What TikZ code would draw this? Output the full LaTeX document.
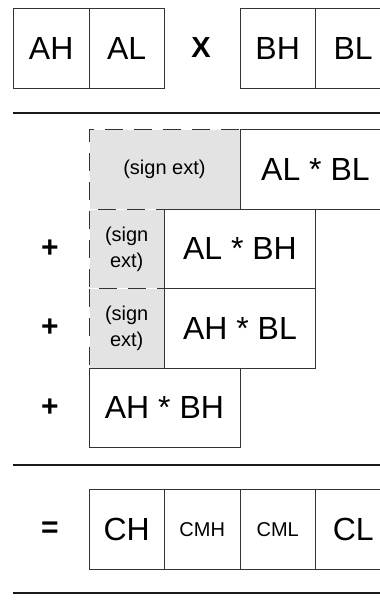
\documentclass[tikz,border=0pt]{standalone}
\usepackage{fontspec}
\setmainfont{Liberation Sans}
\begin{document}
\begin{tikzpicture}[x=1pt,y=-1pt,
  cell/.style={draw=black!80, line width=0.9pt, fill=white, inner sep=0pt, anchor=north west,
    minimum height=80pt, font=\fontsize{32}{38}\selectfont},
  w1/.style={minimum width=75.5pt},
  w2/.style={minimum width=151pt},
  small/.style={font=\fontsize{20}{26}\selectfont, align=center},
  sext/.style={draw=white, line width=0.9pt, fill=black!11,
    postaction={draw=black!80, line width=0.9pt, dash pattern=on 18pt off 11pt},
    inner sep=0pt, anchor=north west, minimum height=80pt, font=\fontsize{20}{26}\selectfont, align=center},
  op/.style={font=\fontsize{30}{34}\selectfont\bfseries, inner sep=0pt},
  rule/.style={line width=1.8pt, black!90}
]
\useasboundingbox (0,0) rectangle (380,605);
\clip (0,0) rectangle (380,605);
% top row
\node[cell,w1] (ah) at (13,8) {AH};
\node[cell,w1] (al) at (88.5,8) {AL};
\node[op, font=\fontsize{29}{34}\selectfont\bfseries] (x) at (201,48) {X};
\node[cell,w1] (bh) at (239.5,8) {BH};
\node[cell,w1] (bl) at (315,8) {BL};
% rule 1
\coordinate (r1a) at (13,113);
\coordinate (r1b) at (390,113);
\draw[rule] (r1a) -- (r1b);
% partial products
\node[sext, minimum width=151pt, minimum height=80pt] (s1) at (88.5,129) {(sign ext)};
\node[cell,w2] (albl) at (239.5,129) {AL * BL};
\node[sext, minimum width=75.5pt, minimum height=79pt] (s2) at (88.5,209) {(sign\\ext)};
\node[cell,w2, minimum height=79pt] (albh) at (164,209) {AL * BH};
\node[sext, minimum width=75.5pt] (s3) at (88.5,288) {(sign\\ext)};
\node[cell,w2] (ahbl) at (164,288) {AH * BL};
\node[cell,w2, minimum height=79pt] (ahbh) at (88.5,368) {AH * BH};
\node[op] (p1) at (50,249) {+};
\node[op] (p2) at (50,328) {+};
\node[op] (p3) at (50,408) {+};
% rule 2
\coordinate (r2a) at (13,465);
\coordinate (r2b) at (390,465);
\draw[rule] (r2a) -- (r2b);
% result
\node[op] (eq) at (50,530) {=};
\node[cell,w1] (ch) at (88.5,489) {CH};
\node[cell,w1,small] (cmh) at (164,489) {CMH};
\node[cell,w1,small] (cml) at (239.5,489) {CML};
\node[cell,w1] (cl) at (315,489) {CL};
% rule 3
\coordinate (r3a) at (13,593);
\coordinate (r3b) at (390,593);
\draw[rule] (r3a) -- (r3b);
\end{tikzpicture}
\end{document}
